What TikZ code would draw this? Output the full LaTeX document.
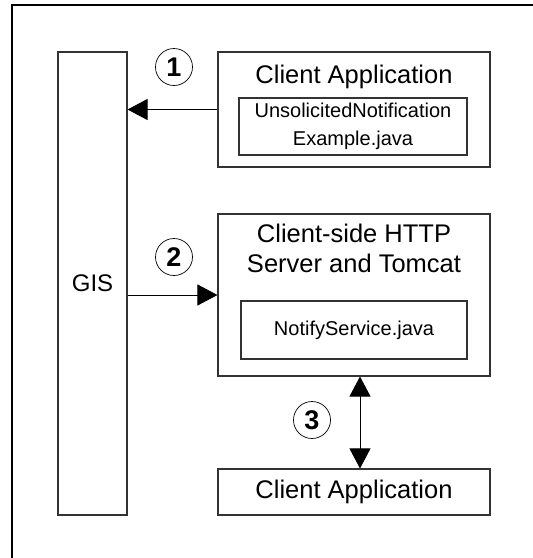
\documentclass[tikz,border=0pt]{standalone}
\usepackage{fontspec}
\setmainfont{Liberation Sans}
\usetikzlibrary{arrows.meta}
\begin{document}
\begin{tikzpicture}[x=1pt,y=-1pt,
  box/.style={draw=black!80, line width=1.1pt, rectangle, inner sep=0pt},
  titletext/.style={font=\fontsize{25.5}{30}\selectfont, align=center, inner sep=0pt},
  smalltext/.style={font=\fontsize{20}{28}\selectfont, align=center},
  num/.style={draw, circle, line width=0.7pt, minimum size=37pt, inner sep=0pt, font=\fontsize{27}{28}\selectfont\bfseries},
  conn/.style={line width=0.9pt, -{Triangle[length=20pt,width=21pt]}},
  conn2/.style={line width=0.9pt, {Triangle[length=20pt,width=21pt]}-{Triangle[length=20pt,width=21pt]}}
]
\useasboundingbox (0,0) rectangle (533,558);
\fill[white] (0,0) rectangle (533,558);
% outer frame (only top and left edges visible)
\draw[line width=2pt] (12,560) -- (12,5) -- (535,5);

% GIS column
\node[box, minimum width=69pt, minimum height=463pt, font=\fontsize{24}{28}\selectfont] (gis) at (92.5,283.5) {GIS};

% Client application (top)
\node[box, minimum width=272pt, minimum height=115pt] (appA) at (354,109.5) {};
\node[titletext] (appAtitle) at (354,77) {Client Application};
\node[box, smalltext, minimum width=228pt, minimum height=57pt] (unsol) at (353,126.5) {UnsolicitedNotification\\Example.java};

% Client-side server
\node[box, minimum width=272pt, minimum height=162pt] (srv) at (354,295) {};
\node[titletext] (srvtitle) at (354,248) {Client-side HTTP\\Server and Tomcat};
\node[box, smalltext, minimum width=226pt, minimum height=58pt] (notify) at (354,330) {NotifyService.java};

% Client application (bottom)
\node[box, minimum width=272pt, minimum height=46pt, font=\fontsize{25.5}{30}\selectfont] (appC) at (354,492) {Client Application};

% connectors
\draw[conn] (appA.west) -- (appA.west -| gis.east);
\draw[conn] (gis.east |- srv.west) -- (srv.west);
\draw[conn2] ([xshift=6pt]srv.south) -- ([xshift=6pt]appC.north);

% step numbers
\node[num] (n1) at (174,67) {1};
\node[num] (n2) at (174,257) {2};
\node[num] (n3) at (312,420) {3};
\end{tikzpicture}
\end{document}
